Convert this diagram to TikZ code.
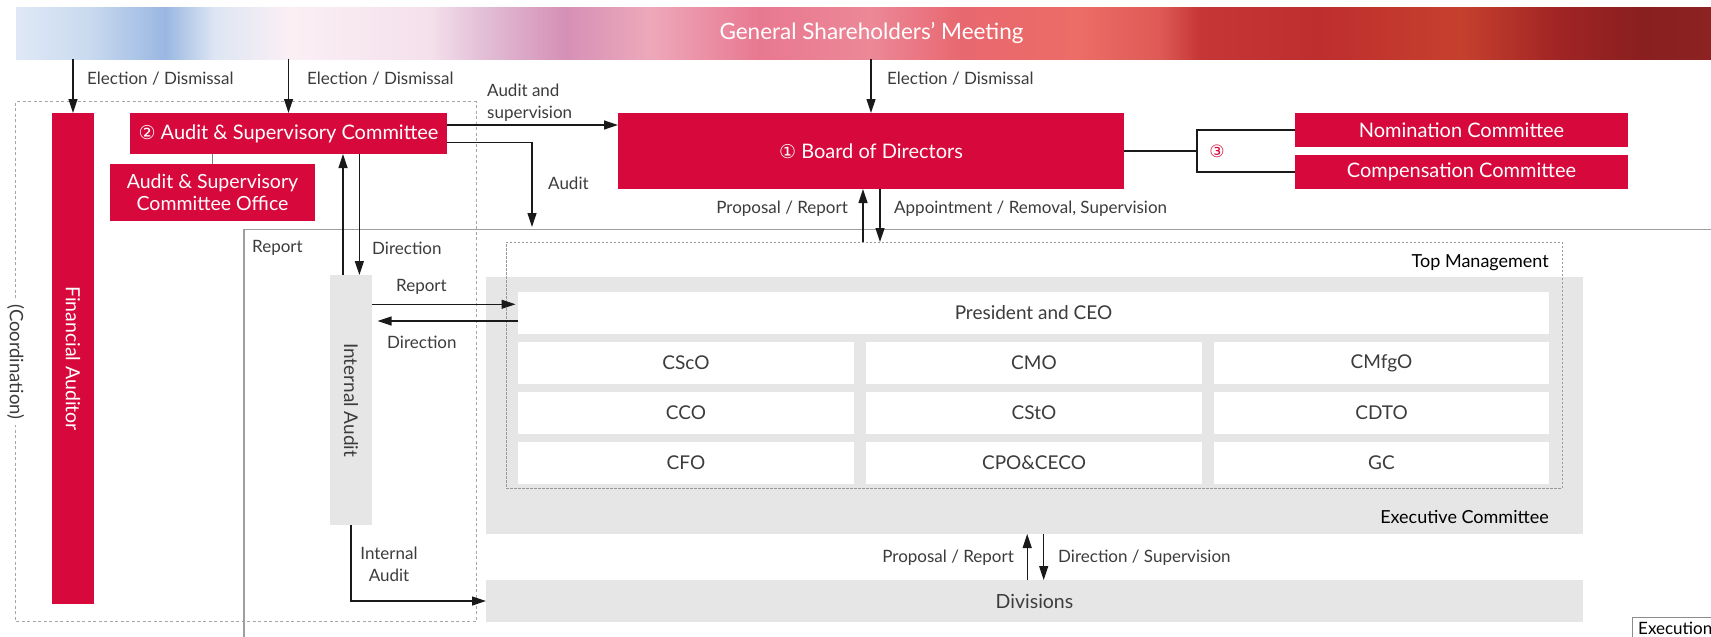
\documentclass[tikz,border=0pt]{standalone}
\usepackage{fontspec}
\setmainfont{Lato}
\newfontfamily\dejavu{DejaVu Sans}
\usetikzlibrary{arrows.meta}
\definecolor{mred}{HTML}{D7083C}
\definecolor{mgray}{HTML}{E6E6E6}
\definecolor{mtext}{HTML}{3C3C3C}
\definecolor{mline}{HTML}{1A1A1A}
\definecolor{b0}{HTML}{DFE9F6}
\definecolor{b1}{HTML}{C9D9EF}
\definecolor{b2}{HTML}{9AB7E2}
\definecolor{b3}{HTML}{DDE6F3}
\definecolor{b4}{HTML}{FBEFF4}
\definecolor{b5}{HTML}{F4E0EB}
\definecolor{b6}{HTML}{E3C0D8}
\definecolor{b7}{HTML}{D590B6}
\definecolor{b8}{HTML}{EEA8BA}
\definecolor{b9}{HTML}{E87890}
\definecolor{b10}{HTML}{EC8898}
\definecolor{b11}{HTML}{E86870}
\definecolor{b12}{HTML}{EC6C66}
\definecolor{b13}{HTML}{DE5A55}
\definecolor{b14}{HTML}{C63636}
\definecolor{b15}{HTML}{BE2E2E}
\definecolor{b16}{HTML}{C6402E}
\definecolor{b17}{HTML}{A02424}
\definecolor{b18}{HTML}{8A1F1F}
\definecolor{b19}{HTML}{8C2222}
\tikzset{
  redbox/.style={fill=mred, text=white, inner sep=0pt, outer sep=0pt, font=\fontsize{20}{24}\selectfont, align=center},
  graybox/.style={fill=mgray, text=mtext, inner sep=0pt, outer sep=0pt, font=\fontsize{19.5}{23}\selectfont},
  whitebox/.style={fill=white, text=mtext, inner sep=0pt, outer sep=0pt, font=\fontsize{19}{23}\selectfont, minimum height=42pt},
  lab/.style={text=mtext, inner sep=0pt, font=\fontsize{17}{22}\selectfont},
  hdr/.style={text=black, inner sep=0pt, font=\fontsize{18}{21}\selectfont},
  arr/.style={draw=mline, line width=1.2pt, -{Triangle[length=14pt,width=9pt]}},
  conn/.style={draw=mline, line width=1.2pt},
  dotbox/.style={draw=black!35, line width=1pt, dash pattern=on 3pt off 2.5pt},
  finedash/.style={draw=black!40, line width=0.8pt, dash pattern=on 2.5pt off 1.5pt},
  outline/.style={draw=black!38, line width=1.5pt},
}
\begin{document}
\begin{tikzpicture}[x=1pt,y=-1pt]
\useasboundingbox (0,0) rectangle (1711,637);
\clip (0,0) rectangle (1711,637);
\fill[white] (0,0) rectangle (1711,637);
% banner gradient
\foreach \xa/\xb/\ca/\cb in {16/90/b0/b1, 90/165/b1/b2, 165/215/b2/b3, 215/290/b3/b4, 290/430/b4/b5, 430/480/b5/b6, 480/565/b6/b7, 565/650/b7/b8, 650/760/b8/b9, 760/870/b9/b10, 870/960/b10/b11, 960/1080/b11/b12, 1080/1160/b12/b13, 1160/1200/b13/b14, 1200/1320/b14/b15, 1320/1460/b15/b16, 1460/1560/b16/b17, 1560/1640/b17/b18, 1640/1712/b18/b19}
  \shade[left color=\ca, right color=\cb, shading angle=90] (\xa,7) rectangle (\xb,59);
\node[text=white, inner sep=0pt, minimum width=1695pt, minimum height=52pt, font=\fontsize{22.5}{26}\selectfont] (gsm) at (863.5,33) {\hspace*{16pt}General Shareholders’ Meeting};

% outer dotted audit box with gap
\path[dotbox] (15.7,298) -- (15.7,101.7) -- (476,101.7) -- (476,621.7) -- (15.7,621.7) -- (15.7,425);
\node[lab, rotate=-90, font=\fontsize{18.5}{22}\selectfont] (coord) at (15.7,362) {(Coordination)};

% execution outline
\path[outline] (244,640) -- (244,229.3) -- (1715,229.3);

% red boxes
\node[redbox, minimum width=42pt, minimum height=491pt] (fa) at (73,358.5) {};
\node[text=white, rotate=-90, inner sep=0pt, font=\fontsize{19.5}{23}\selectfont] (fatext) at (fa.center) {Financial Auditor};
\node[redbox, minimum width=317pt, minimum height=41pt] (asc) at (288.5,133.5) {{\dejavu\fontsize{19}{22}\selectfont ②} Audit \& Supervisory Committee};
\node[redbox, minimum width=205pt, minimum height=57pt, font=\fontsize{19.5}{22}\selectfont] (asco) at (212.5,192.5) {Audit \& Supervisory\\Committee Office};
\node[redbox, minimum width=506pt, minimum height=76pt] (bod) at (871,151) {{\dejavu\fontsize{19}{22}\selectfont ①} Board of Directors};
\node[redbox, minimum width=333pt, minimum height=34pt] (nom) at (1461.5,130) {Nomination Committee};
\node[redbox, minimum width=333pt, minimum height=34pt] (comp) at (1461.5,172) {Compensation Committee};

% executive committee
\node[fill=mgray, inner sep=0pt, outer sep=0pt, minimum width=1097pt, minimum height=257pt] (ec) at (1034.5,405.5) {};
\node[finedash, inner sep=0pt, outer sep=0pt, minimum width=1056pt, minimum height=246pt] (tm) at (1034,365) {};
\node[hdr, anchor=east] (tmlab) at (1549,263) {Top Management};
\node[hdr, anchor=east] (eclab) at (1549,517) {Executive Committee};
\node[whitebox, minimum width=1031pt] (pres) at (1033.5,313) {President and CEO};
\node[whitebox, minimum width=336pt] (c11) at (686,363) {CScO};
\node[whitebox, minimum width=336pt] (c12) at (1034,363) {CMO};
\node[whitebox, minimum width=335pt] (c13) at (1381.5,363) {CMfgO};
\node[whitebox, minimum width=336pt] (c21) at (686,413) {CCO};
\node[whitebox, minimum width=336pt] (c22) at (1034,413) {CStO};
\node[whitebox, minimum width=335pt] (c23) at (1381.5,413) {CDTO};
\node[whitebox, minimum width=336pt] (c31) at (686,463) {CFO};
\node[whitebox, minimum width=336pt] (c32) at (1034,463) {CPO\&CECO};
\node[whitebox, minimum width=335pt] (c33) at (1381.5,463) {GC};
\node[graybox, minimum width=1097pt, minimum height=42pt] (div) at (1034.5,601) {Divisions};
\node[graybox, minimum width=42pt, minimum height=250pt] (ia) at (351,400) {};
\node[text=mtext, rotate=-90, inner sep=0pt, font=\fontsize{19}{23}\selectfont] (iatext) at (ia.center) {Internal Audit};

% execution label (cut off)
\path[draw=black!45, line width=1pt] (1720,617) -- (1632,617) -- (1632,640);
\node[hdr, anchor=west, font=\fontsize{17}{20}\selectfont] (exlab) at (1638,628) {Execution};

% connectors from GSM
\draw[arr] (gsm.south -| fa.north) -- (fa.north);
\draw[arr] (gsm.south -| asc.north) -- (asc.north);
\draw[arr] (gsm.south -| bod.north) -- (bod.north);
\node[lab, anchor=west] at (87,78.5) {Election / Dismissal};
\node[lab, anchor=west] at (307,78.5) {Election / Dismissal};
\node[lab, anchor=west] at (887,78.5) {Election / Dismissal};

% ASC office link
\draw[draw=black!50, line width=1.5pt] (asc.south -| asco.north) -- (asco.north);

% ASC -> BoD
\draw[arr] ([yshift=8.5pt]asc.east) -- ([yshift=8.5pt]asc.east -| bod.west);
\node[lab, anchor=west, align=left] at (487,103) {Audit and\\supervision};
% ASC audit
\coordinate (auditend) at (532,227);
\draw[arr] ([yshift=-8.8pt]asc.east) -| (auditend);
\node[lab, anchor=west] at (548,183) {Audit};

% BoD -> committees bracket
\coordinate (brk) at (1197,151);
\draw[conn] (bod.east |- brk) -- (brk);
\draw[conn] (nom.west) -| (brk) |- (comp.west);
\node[text=mred, inner sep=0pt, font=\dejavu\fontsize{17}{20}\selectfont] (c3) at (1217,151) {③};

% BoD <-> Top management
\draw[arr] ([xshift=-8pt]bod.south |- tm.north) -- ([xshift=-8pt]bod.south);
\draw[arr] ([xshift=9pt]bod.south) -- ([xshift=9pt]bod.south |- tm.north);
\node[lab, anchor=east] at (848,209) {Proposal / Report};
\node[lab, anchor=west] at (894,209) {Appointment / Removal, Supervision};

% ASC <-> IA
\draw[arr] ([xshift=-8pt]ia.north) -- ([xshift=-8pt]ia.north |- asc.south);
\draw[arr] ([xshift=8.4pt]ia.north |- asc.south) -- ([xshift=8.4pt]ia.north);
\node[lab, anchor=west] at (252,248) {Report};
\node[lab, anchor=west] at (372,248) {Direction};

% IA <-> President
\draw[arr, shorten >=2.5pt] ([yshift=8.7pt]pres.west -| ia.east) -- ([yshift=8.7pt]pres.west);
\draw[arr, shorten >=5.5pt] ([yshift=-8pt]pres.west) -- ([yshift=-8pt]pres.west -| ia.east);
\node[lab, anchor=west] at (396,287) {Report};
\node[lab, anchor=west] at (387,342) {Direction};

% IA -> Divisions
\draw[arr] (ia.south) |- (div.west);
\node[lab, align=center] at (389,564) {Internal\\Audit};

% Exec <-> Divisions
\draw[arr] ([xshift=-7.3pt]div.north) -- ([xshift=-7.3pt]div.north |- ec.south);
\draw[arr] ([xshift=9.2pt]div.north |- ec.south) -- ([xshift=9.2pt]div.north);
\node[lab, anchor=east] at (1014,558) {Proposal / Report};
\node[lab, anchor=west] at (1058,558) {Direction / Supervision};
\end{tikzpicture}
\end{document}
